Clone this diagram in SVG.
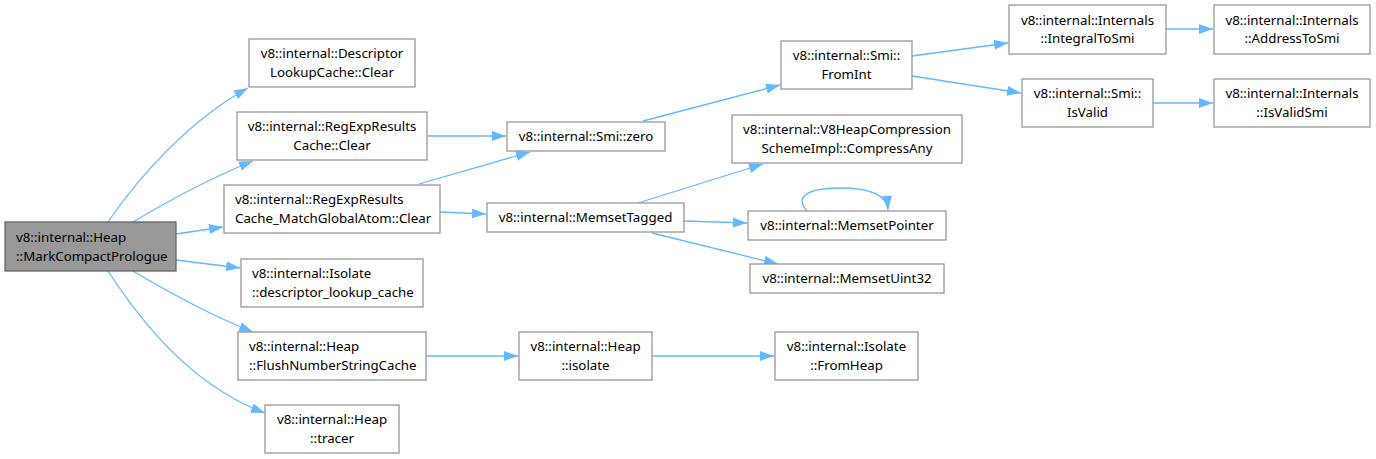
<svg xmlns="http://www.w3.org/2000/svg" width="1376" height="459" viewBox="0 0 1376 459">
<defs>
<style>
.node rect{fill:#ffffff;stroke:#999999;stroke-width:1.3}
.main rect{fill:#999999;stroke:#666666}
text{font-family:"Noto Sans","Open Sans","DejaVu Sans",sans-serif;font-size:13.3px;fill:#000000}
.c{text-anchor:middle}
.edges path{fill:none;stroke:#63b8ff;stroke-width:1.3;marker-end:url(#arr)}
</style>
<marker id="arr" markerUnits="userSpaceOnUse" markerWidth="14" markerHeight="10" refX="14" refY="5" orient="auto">
<path d="M0,0 L14,5 L0,10 z" fill="#63b8ff"/>
</marker>
</defs>
<rect width="1376" height="459" fill="#ffffff"/>
<g class="edges">
<path d="M108,222 C140,175 190,120 248,88"/>
<path d="M133,222 C165,203 205,180 253,161"/>
<path d="M176,234 L223,227"/>
<path d="M176,260 L240,268"/>
<path d="M133,271 C165,290 205,313 253,332"/>
<path d="M108,271 C140,320 190,385 265,413"/>
<path d="M427,136 L506,136"/>
<path d="M419,184 L530,152"/>
<path d="M440,212 L486,214"/>
<path d="M643,121 L780,85"/>
<path d="M638,203 L763,164"/>
<path d="M684,221 L747,223"/>
<path d="M652,233 L778,264"/>
<path d="M807,211 C795,198 805,188 840,188 C870,188 887,195 888,210"/>
<path d="M912,56 L1008,43"/>
<path d="M912,76 L1021,93"/>
<path d="M1166,29 L1213,29"/>
<path d="M1153,103 L1213,103"/>
<path d="M426,356 L518,356"/>
<path d="M652,356 L774,356"/>
</g>
<g id="n0" class="node main"><rect x="5" y="222" width="171" height="49"/><text x="16" y="242">v8::internal::Heap</text><text x="16" y="260.5">::MarkCompactPrologue</text></g>
<g id="n1" class="node"><rect x="249" y="39" width="166" height="48"/><text class="c" x="332" y="58">v8::internal::Descriptor</text><text class="c" x="332" y="76.5">LookupCache::Clear</text></g>
<g id="n2" class="node"><rect x="237" y="112" width="190" height="48"/><text class="c" x="332" y="131">v8::internal::RegExpResults</text><text class="c" x="332" y="149.5">Cache::Clear</text></g>
<g id="n3" class="node"><rect x="224" y="185" width="216" height="48"/><text x="235" y="204">v8::internal::RegExpResults</text><text x="235" y="222.5">Cache_MatchGlobalAtom::Clear</text></g>
<g id="n4" class="node"><rect x="241" y="259" width="182" height="48"/><text x="252" y="278">v8::internal::Isolate</text><text x="252" y="296.5">::descriptor_lookup_cache</text></g>
<g id="n5" class="node"><rect x="238" y="332" width="188" height="48"/><text x="249" y="351">v8::internal::Heap</text><text x="249" y="369.5">::FlushNumberStringCache</text></g>
<g id="n6" class="node"><rect x="265" y="405" width="134" height="48"/><text class="c" x="332" y="424">v8::internal::Heap</text><text class="c" x="332" y="442.5">::tracer</text></g>
<g id="n7" class="node"><rect x="507" y="122" width="158" height="29"/><text class="c" x="586" y="141">v8::internal::Smi::zero</text></g>
<g id="n8" class="node"><rect x="781" y="41" width="131" height="48"/><text class="c" x="846.5" y="60">v8::internal::Smi::</text><text class="c" x="846.5" y="78.5">FromInt</text></g>
<g id="n9" class="node"><rect x="732" y="115" width="230" height="48"/><text class="c" x="847" y="134">v8::internal::V8HeapCompression</text><text class="c" x="847" y="152.5">SchemeImpl::CompressAny</text></g>
<g id="n10" class="node"><rect x="487" y="203" width="197" height="29"/><text class="c" x="585.5" y="222">v8::internal::MemsetTagged</text></g>
<g id="n11" class="node"><rect x="748" y="211" width="198" height="29"/><text class="c" x="847" y="230">v8::internal::MemsetPointer</text></g>
<g id="n12" class="node"><rect x="750" y="264" width="194" height="29"/><text class="c" x="847" y="283">v8::internal::MemsetUint32</text></g>
<g id="n13" class="node"><rect x="1009" y="5" width="157" height="49"/><text class="c" x="1087.5" y="24.5">v8::internal::Internals</text><text class="c" x="1087.5" y="43">::IntegralToSmi</text></g>
<g id="n14" class="node"><rect x="1214" y="5" width="156" height="49"/><text class="c" x="1292" y="24.5">v8::internal::Internals</text><text class="c" x="1292" y="43">::AddressToSmi</text></g>
<g id="n15" class="node"><rect x="1022" y="79" width="131" height="48"/><text class="c" x="1087.5" y="98">v8::internal::Smi::</text><text class="c" x="1087.5" y="116.5">IsValid</text></g>
<g id="n16" class="node"><rect x="1214" y="79" width="156" height="48"/><text class="c" x="1292" y="98">v8::internal::Internals</text><text class="c" x="1292" y="116.5">::IsValidSmi</text></g>
<g id="n17" class="node"><rect x="519" y="332" width="133" height="48"/><text class="c" x="585.5" y="351">v8::internal::Heap</text><text class="c" x="585.5" y="369.5">::isolate</text></g>
<g id="n18" class="node"><rect x="775" y="332" width="143" height="48"/><text class="c" x="846.5" y="351">v8::internal::Isolate</text><text class="c" x="846.5" y="369.5">::FromHeap</text></g>
</svg>
